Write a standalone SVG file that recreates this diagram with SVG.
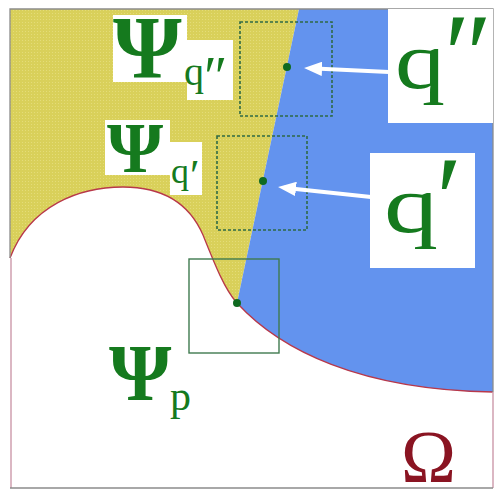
<svg xmlns="http://www.w3.org/2000/svg" width="496" height="491" viewBox="0 0 496 491">
  <style>
    .lbl { font-family: "Liberation Serif", "Times New Roman", serif; fill: #157a1e; }
    .psi { font-weight: bold; }
    .omega { font-family: "Liberation Serif", "Times New Roman", serif; fill: #8a1422; }
    .box-d { fill: none; stroke: #2f6a45; stroke-width: 1.6; stroke-dasharray: 3 2; }
    .box-s { fill: none; stroke: #3f7a4f; stroke-width: 1.4; }
    .dot { fill: #0f6a20; }
    .arrow { stroke: #ffffff; stroke-width: 4; fill: none; marker-end: url(#head); }
    .bg { fill: #ffffff; }
  </style>
  <defs>
    <pattern id="dots" width="3" height="3" patternUnits="userSpaceOnUse">
      <rect width="3" height="3" fill="#d9d05a"/>
      <rect x="1" y="1" width="1" height="1" fill="#e4dc78"/>
    </pattern>
    <marker id="head" viewBox="0 0 10 8" refX="6.7" refY="4" markerWidth="4.5" markerHeight="3.6" orient="auto" markerUnits="strokeWidth">
      <path d="M0,0 L10,4 L0,8 z" fill="#ffffff"/>
    </marker>
  </defs>

  <rect x="0" y="0" width="496" height="491" fill="#ffffff"/>

  <g id="regions">
    <path id="yellow" d="M10,9 L299,9 L237,303 C225,290 215,265 203,235 C190,205 165,187 123,187 C80,187 30,205 10,258 Z" fill="url(#dots)"/>
    <path id="blue" d="M299,9 L493,9 L493,392 C360,390 280,350 237,303 Z" fill="#6393ee"/>
    <path id="boundary" d="M10,258 C30,205 80,187 123,187 C165,187 190,205 203,235 C215,265 225,290 237,303 C280,350 360,390 493,392" fill="none" stroke="#b8384a" stroke-width="1.3"/>
    <path d="M11,258 L11,488 M493,392 L493,488" fill="none" stroke="#d0a0b0" stroke-width="1.5"/>
    <path d="M10,258 L10,9 L493,9 L493,392 M10,488 L493,488" fill="none" stroke="#8c8c8c" stroke-width="1.3"/>
  </g>

  <g id="node-qpp-box">
    <rect class="box-d" x="240" y="22" width="92" height="94"/>
  </g>
  <g id="node-qp-box">
    <rect class="box-d" x="217" y="136" width="90" height="94"/>
  </g>
  <g id="node-p-box">
    <rect class="box-s" x="189" y="259" width="90" height="94"/>
  </g>

  <g id="connectors">
    <line class="arrow" x1="389" y1="72" x2="310" y2="68.3"/>
    <line class="arrow" x1="371" y1="197" x2="284" y2="187.7"/>
  </g>

  <g id="node-qpp-point"><circle class="dot" cx="287" cy="67" r="4"/></g>
  <g id="node-qp-point"><circle class="dot" cx="263" cy="181" r="4"/></g>
  <g id="node-p-point"><circle class="dot" cx="237" cy="303" r="4"/></g>

  <g id="label-qpp">
    <rect class="bg" x="388" y="9" width="105" height="114"/>
    <text class="lbl" x="395" y="88" font-size="80" textLength="50" lengthAdjust="spacingAndGlyphs">q</text>
    <text class="lbl" x="444" y="94" font-size="116">″</text>
  </g>
  <g id="label-qp">
    <rect class="bg" x="370" y="153" width="105" height="115"/>
    <text class="lbl" x="384" y="232" font-size="80" textLength="54" lengthAdjust="spacingAndGlyphs">q</text>
    <text class="lbl" x="436" y="240" font-size="120">′</text>
  </g>

  <g id="label-psi-qpp">
    <rect class="bg" x="113" y="15" width="74" height="67"/>
    <rect class="bg" x="187" y="40" width="46" height="60"/>
    <text class="lbl psi" x="113" y="77" font-size="88">Ψ</text>
    <text class="lbl" x="184" y="85" font-size="40">q</text>
    <text class="lbl" x="204" y="96" font-size="56">″</text>
  </g>
  <g id="label-psi-qp">
    <rect class="bg" x="105" y="120" width="65" height="55"/>
    <rect class="bg" x="170" y="142" width="32" height="53"/>
    <text class="lbl psi" x="107" y="172" font-size="72">Ψ</text>
    <text class="lbl" x="171" y="183" font-size="36">q</text>
    <text class="lbl" x="190" y="190" font-size="44">′</text>
  </g>
  <g id="label-psi-p">
    <text class="lbl psi" x="109" y="400" font-size="80">Ψ</text>
    <text class="lbl" x="170" y="410" font-size="42">p</text>
  </g>
  <g id="label-omega">
    <text class="omega" x="401" y="482" font-size="74">Ω</text>
  </g>
</svg>
